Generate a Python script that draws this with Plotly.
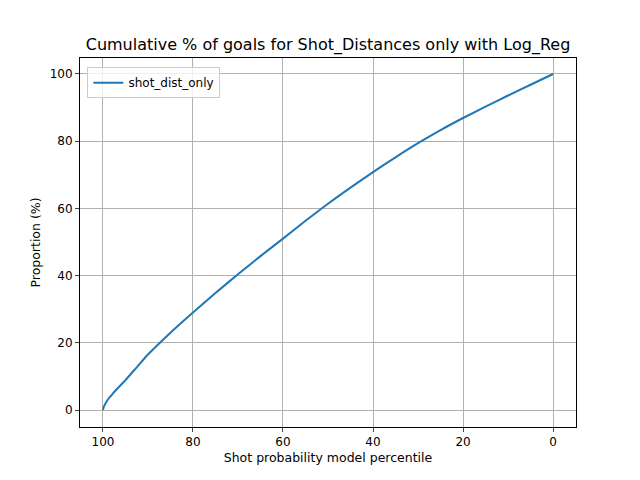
import plotly.graph_objects as go

percentile = [100, 99.8, 99.5, 99, 98.5, 98, 97, 96, 95, 92.5, 90, 85, 80, 75, 70, 65, 60, 55, 50, 45, 40, 35, 30, 25, 20, 15, 10, 5, 0]
proportion = [0, 1.0, 1.8, 2.9, 3.8, 4.6, 6.1, 7.5, 8.9, 12.7, 16.5, 23.0, 29.0, 34.8, 40.4, 45.8, 51.0, 56.3, 61.4, 66.2, 70.8, 75.2, 79.4, 83.3, 86.9, 90.3, 93.6, 96.8, 100]

fig = go.Figure()
fig.add_trace(go.Scatter(x=percentile, y=proportion, mode="lines", name="shot_dist_only",
                         line=dict(color="#1f77b4", width=2, shape="spline", smoothing=0.6)))
ax = dict(showline=True, linecolor="black", mirror=True, ticks="outside", ticklen=4,
          gridcolor="#b0b0b0", zeroline=False, tickfont=dict(size=12, color="black"))
fig.update_layout(
    width=640, height=480, margin=dict(l=72, r=72, t=50, b=61),
    paper_bgcolor="white", plot_bgcolor="white",
    font=dict(family="DejaVu Sans", size=12, color="black"),
    title=dict(text="Cumulative % of goals for Shot_Distances only with Log_Reg", x=0.5, xanchor="center",
               y=0.925, yanchor="middle", font=dict(size=16)),
    xaxis=dict(ax, range=[105.1, -5.1], tickvals=[100, 80, 60, 40, 20, 0],
               title=dict(text="Shot probability model percentile", standoff=4, font=dict(size=12.5))),
    yaxis=dict(ax, range=[-5.06, 104.76], tickvals=[0, 20, 40, 60, 80, 100],
               title=dict(text="Proportion (%)", standoff=6, font=dict(size=12.5))),
    showlegend=True,
    legend=dict(x=0.015, y=0.975, xanchor="left", yanchor="top", bordercolor="#cccccc",
                borderwidth=1, bgcolor="rgba(255,255,255,0.8)", font=dict(size=12)),
)
fig.write_html("out.html")
